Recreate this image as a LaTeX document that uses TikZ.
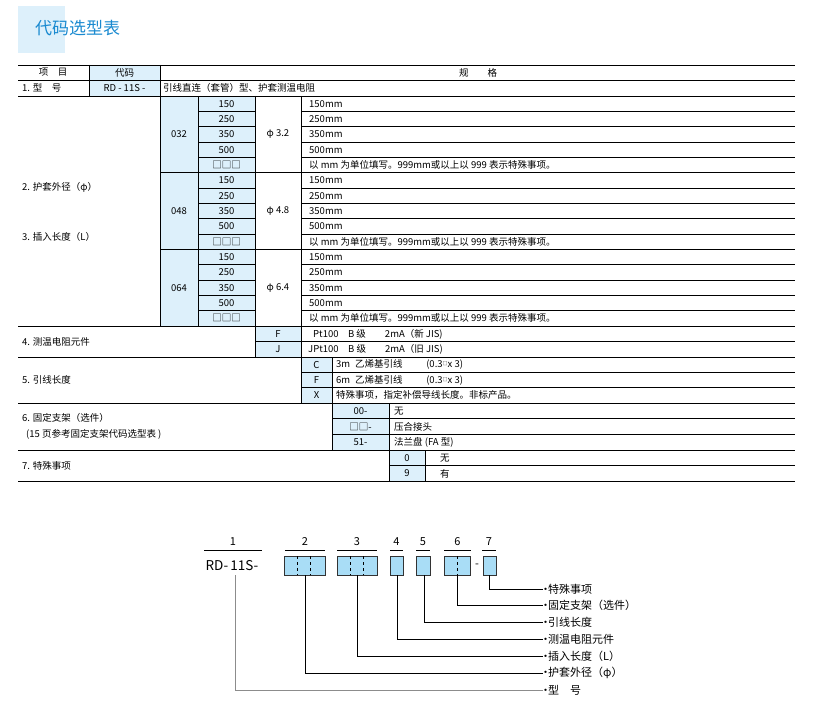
\documentclass[tikz,border=0pt]{standalone}
\usepackage{fontspec}
\setmainfont{Noto Sans CJK SC}
\begin{document}
\begin{tikzpicture}[x=1pt,y=-1pt,
  t/.style={inner sep=0pt,font=\fontsize{9.5}{11}\selectfont},
  l/.style={t,anchor=west},
  ln/.style={line width=0.6pt},
  bl/.style={fill=cellblue},
  box/.style={draw=black!80,fill=boxblue,line width=0.7pt},
  ld/.style={line width=0.7pt},
  lab/.style={anchor=west,inner sep=0pt,font=\fontsize{11}{13}\selectfont}]
\definecolor{cellblue}{HTML}{DDF0FB}
\definecolor{boxblue}{HTML}{A9DDF6}
\definecolor{titleblue}{HTML}{1A8AD0}
\useasboundingbox (0,0) rectangle (814,719);
% title
\fill[cellblue] (18,6) rectangle (65,53);
\node[anchor=west,inner sep=0pt,text=titleblue,font=\fontsize{17}{20}\selectfont] (title) at (35,28) {代码选型表};
% blue fills
\fill[bl] (89,65) rectangle (160,96);
\fill[bl] (160,96) rectangle (255,326);
\fill[bl] (255,326) rectangle (301,357);
\fill[bl] (301,357) rectangle (332,403);
\fill[bl] (332,403) rectangle (389,450);
\fill[bl] (389,450) rectangle (425,481);
% horizontal full lines
\foreach \y in {65,80,96,326,357,403,450,481} \draw[ln] (18,\y) -- (795,\y);
% verticals
\draw[ln] (89,65) -- (89,96); \draw[ln] (160,65) -- (160,326);
\draw[ln] (198,96) -- (198,326); \draw[ln] (255,96) -- (255,357);
\draw[ln] (301,96) -- (301,403); \draw[ln] (332,357) -- (332,450);
\draw[ln] (389,403) -- (389,481); \draw[ln] (425,450) -- (425,481);
% header
\node[t] (h1) at (53,72.5) {项\quad 目};
\node[t] (h2) at (124.5,72.5) {代码};
\node[t] (h3) at (478,72.5) {规\qquad 格};
\node[l] (r1a) at (22,88) {1. 型\quad 号};
\node[t] (r1b) at (124.5,88) {RD - 11S -};
\node[l] (r1c) at (163,88) {引线直连（套管）型、护套测温电阻};
% length blocks
\foreach \k/\c/\p in {0/032/3.2,1/048/4.8,2/064/6.4}{
  \pgfmathsetmacro{\yo}{96+\k*76.67}
  \draw[ln] (160,\yo) -- (795,\yo);
  \node[t] (c\k) at (179,\yo+38.3) {\c};
  \node[t] (p\k) at (278,\yo+38.3) {φ \p};
  \foreach \i/\v in {0/150,1/250,2/350,3/500}{
    \pgfmathsetmacro{\yy}{\yo+\i*15.33}
    \draw[ln] (198,\yy) -- (255,\yy); \draw[ln] (301,\yy) -- (795,\yy);
    \node[t] (v\k\i) at (226.5,\yy+7.7) {\v};
    \node[l] (m\k\i) at (309,\yy+7.7) {\v mm};
  }
  \pgfmathsetmacro{\yy}{\yo+4*15.33}
  \draw[ln] (198,\yy) -- (255,\yy); \draw[ln] (301,\yy) -- (795,\yy);
  \node[t] (v\k4) at (226.5,\yy+7.7) {□□□};
  \node[l] (m\k4) at (309,\yy+7.7) {以 mm 为单位填写。999mm或以上以 999 表示特殊事项。};
}
\node[l] (r2) at (22,187) {2. 护套外径（φ）};
\node[l] (r3) at (22,237) {3. 插入长度（L）};
% row 4
\draw[ln] (255,341.5) -- (795,341.5);
\node[l] (r4) at (22,341.5) {4. 测温电阻元件};
\node[t] (f4) at (278,334) {F}; \node[l] (d4a) at (313,334) {Pt100\quad B 级\qquad 2mA（新 JIS)};
\node[t] (j4) at (278,349) {J}; \node[l] (d4b) at (308,349) {JPt100\quad B 级\qquad 2mA（旧 JIS)};
% row 5
\draw[ln] (301,372.3) -- (795,372.3); \draw[ln] (301,387.7) -- (795,387.7);
\node[l] (r5) at (22,380) {5. 引线长度};
\node[t] (c5) at (316.5,364.7) {C}; \node[l] (d5a) at (336,364.7) {3m\enskip 乙烯基引线\qquad\enskip (0.3\raisebox{2pt}{\fontsize{5}{5}\selectfont □}x 3)};
\node[t] (f5) at (316.5,380) {F}; \node[l] (d5b) at (336,380) {6m\enskip 乙烯基引线\qquad\enskip (0.3\raisebox{2pt}{\fontsize{5}{5}\selectfont □}x 3)};
\node[t] (x5) at (316.5,395.3) {X}; \node[l] (d5c) at (336,395.3) {特殊事项，指定补偿导线长度。非标产品。};
% row 6
\draw[ln] (332,418.7) -- (795,418.7); \draw[ln] (332,434.3) -- (795,434.3);
\node[l] (r6a) at (22,418) {6. 固定支架（选件）};
\node[l] (r6b) at (26,434) {(15 页参考固定支架代码选型表 )};
\node[t] (c6a) at (360.5,411) {00-}; \node[l] (d6a) at (394,411) {无};
\node[t] (c6b) at (360.5,426.5) {□□-}; \node[l] (d6b) at (394,426.5) {压合接头};
\node[t] (c6c) at (360.5,442) {51-}; \node[l] (d6c) at (394,442) {法兰盘 (FA 型)};
% row 7
\draw[ln] (389,465.5) -- (795,465.5);
\node[l] (r7) at (22,465.5) {7. 特殊事项};
\node[t] (c7a) at (407,458) {0}; \node[l] (d7a) at (440,458) {无};
\node[t] (c7b) at (407,473.5) {9}; \node[l] (d7b) at (440,473.5) {有};
% bottom diagram
\foreach \a/\b/\n in {204/262/1,285/325/2,337/377/3,390/403/4,416/430/5,444/471/6,482/496/7}{
  \draw[ld] (\a,550) -- (\b,550);
  \node[inner sep=0pt,font=\fontsize{11}{13}\selectfont] (n\n) at ({(\a+\b)/2},542) {\n};
}
\node[inner sep=0pt,font=\fontsize{13.5}{16}\selectfont] (rd) at (232,566) {RD-\,11S-};
\draw[box] (284,556) rectangle (325,575); \draw[dashed,ld] (297,556)--(297,575); \draw[dashed,ld] (310,556)--(310,575);
\draw[box] (337,556) rectangle (377,575); \draw[dashed,ld] (350,556)--(350,575); \draw[dashed,ld] (363,556)--(363,575);
\draw[box] (390,556) rectangle (403,575);
\draw[box] (416,556) rectangle (430,575);
\draw[box] (444,556) rectangle (470,575); \draw[dashed,ld] (457,556)--(457,575);
\node[inner sep=0pt,font=\fontsize{11}{13}\selectfont] (dash) at (477,566) {-};
\draw[box] (483,556) rectangle (496,575);
\coordinate (s1) at (235,575);
\foreach \x/\y/\txt/\nm in {305/673/护套外径（φ）/2,357/656/插入长度（L）/3,397/639/测温电阻元件/4,424/622/引线长度/5,457/605/固定支架（选件）/6,489/589/特殊事项/7}{
  \node[lab] (L\nm) at (543,\y) {\kern-3pt·\kern-3pt\txt};
  \draw[ld] (\x,575) |- (L\nm.west);
}
\node[lab] (L1) at (543,690) {\kern-3pt·\kern-3pt 型\quad 号};
\draw[ld,black!45] (s1) |- (L1.west);
\end{tikzpicture}
\end{document}
